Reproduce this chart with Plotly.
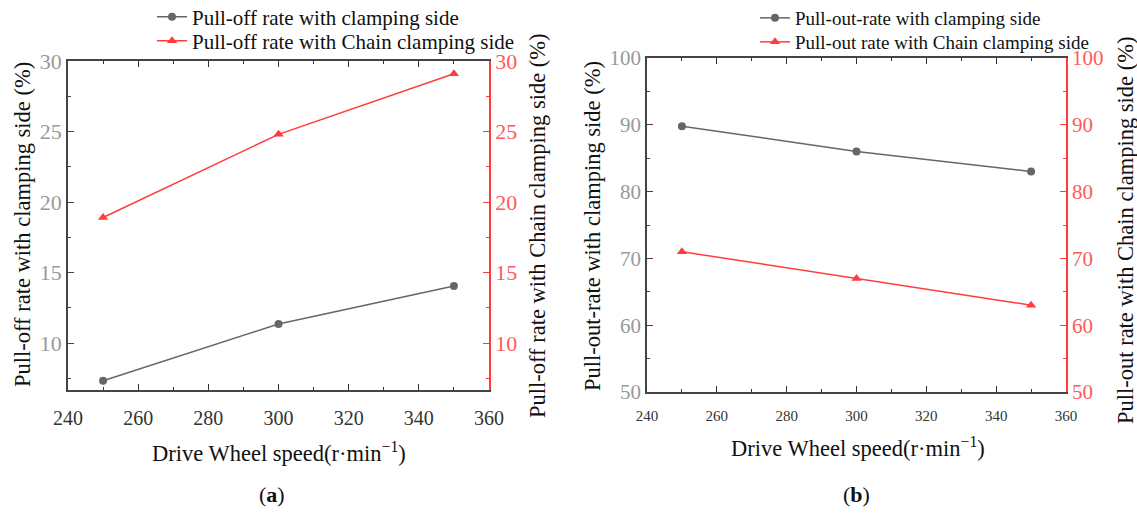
import plotly.graph_objects as go

speed = [250, 300, 350]
a_clamp = [7.33, 11.35, 14.04]
a_chain = [18.9, 24.8, 29.1]
b_clamp = [89.8, 86.0, 83.0]
b_chain = [71.0, 67.0, 63.0]

GRAY = "#666666"
RED = "#ff3b3b"
FONT = "Liberation Serif"

fig = go.Figure()

fig.add_trace(go.Scatter(x=speed, y=a_clamp, mode="lines+markers", name="Pull-off rate with clamping side",
                         line=dict(color=GRAY, width=1.5), marker=dict(symbol="circle", size=8, color=GRAY),
                         xaxis="x", yaxis="y", legend="legend", showlegend=True))
fig.add_trace(go.Scatter(x=speed, y=a_chain, mode="lines+markers", name="Pull-off rate with Chain clamping side",
                         line=dict(color=RED, width=1.5), marker=dict(symbol="triangle-up", size=9, color=RED),
                         xaxis="x", yaxis="y2", legend="legend2", showlegend=True))
fig.add_trace(go.Scatter(x=speed, y=b_clamp, mode="lines+markers", name="Pull-out-rate with clamping side",
                         line=dict(color=GRAY, width=1.5), marker=dict(symbol="circle", size=8, color=GRAY),
                         xaxis="x3", yaxis="y3", legend="legend3", showlegend=True))
fig.add_trace(go.Scatter(x=speed, y=b_chain, mode="lines+markers", name="Pull-out rate with Chain clamping side",
                         line=dict(color=RED, width=1.5), marker=dict(symbol="triangle-up", size=9, color=RED),
                         xaxis="x3", yaxis="y4", legend="legend4", showlegend=True))

W, H = 1137, 513

def px(x):
    return x / W

def py(y):
    return 1 - y / H

ax_dom = [px(68), px(489)]
ay_dom = [py(390), py(61)]
bx_dom = [px(647), px(1066)]
by_dom = [py(392), py(58)]

def xaxis(dom, anchor, fsize):
    return dict(domain=dom, anchor=anchor, range=[240, 360], tick0=240, dtick=20, automargin=False,
                ticks="inside", ticklen=6, tickwidth=1.2, tickcolor="#333", showline=True, linecolor="#444", linewidth=1.5,
                mirror="ticks", showgrid=False, zeroline=False, ticklabelstandoff=9,
                minor=dict(dtick=10, ticks="inside", ticklen=3, tickwidth=1.2, tickcolor="#333", showgrid=False),
                tickfont=dict(size=fsize, color="#333"))

def yleft(dom, anchor, rng, dt, mdt, fsize):
    return dict(domain=dom, anchor=anchor, range=rng, tick0=0, dtick=dt, automargin=False,
                ticks="inside", ticklen=6, tickwidth=1.2, tickcolor="#444", showline=True, linecolor="#444", linewidth=1.5,
                showgrid=False, zeroline=False,
                minor=dict(dtick=mdt, ticks="inside", ticklen=3, tickwidth=1.2, tickcolor="#444", showgrid=False),
                tickfont=dict(size=fsize, color="#999999"))

def yright(overlay, anchor, rng, dt, mdt, fsize):
    return dict(overlaying=overlay, anchor=anchor, side="right", range=rng, tick0=0, dtick=dt, automargin=False,
                ticks="inside", ticklen=6, tickwidth=1.2, tickcolor=RED, showline=True, linecolor=RED, linewidth=1.5,
                showgrid=False, zeroline=False,
                minor=dict(dtick=mdt, ticks="inside", ticklen=3, tickwidth=1.2, tickcolor=RED, showgrid=False),
                tickfont=dict(size=fsize, color="#ff5a5a"))

TFS = 22.5
XT = "Drive Wheel speed(r·min<sup>−1</sup>)"

def label(text, x, y, angle=0, size=TFS):
    return dict(text=text, x=px(x), y=py(y), xref="paper", yref="paper", showarrow=False,
                xanchor="center", yanchor="middle", textangle=angle,
                font=dict(size=size, color="#111"))

def leg(x, y, size):
    return dict(x=px(x), y=py(y), xanchor="left", yanchor="middle", bgcolor="rgba(0,0,0,0)",
                font=dict(size=size, color="#111"), tracegroupgap=0, visible=True)

fig.update_layout(
    template="none",
    showlegend=True,
    width=W, height=H, margin=dict(l=0, r=0, t=0, b=0, autoexpand=False),
    font=dict(family=FONT, color="#111"),
    plot_bgcolor="white", paper_bgcolor="white",
    xaxis=xaxis(ax_dom, "y", 20),
    yaxis=yleft(ay_dom, "x", [6.67, 30], 5, 2.5, 22),
    yaxis2=yright("y", "x", [6.67, 30], 5, 2.5, 22),
    xaxis3=xaxis(bx_dom, "y3", 15),
    yaxis3=yleft(by_dom, "x3", [50, 100], 10, 5, 21),
    yaxis4=yright("y3", "x3", [50, 100], 10, 5, 21),
    legend=leg(152, 17, 21),
    legend2=leg(152, 41, 21),
    legend3=leg(755, 18, 19),
    legend4=leg(755, 42, 19),
    annotations=[
        label("Pull-off rate with clamping side (%)", 22, 225, -90),
        label("Pull-off rate with Chain clamping side (%)", 537, 226, -90),
        label("Pull-out-rate with clamping side (%)", 592, 226, -90),
        label("Pull-out rate with Chain clamping side (%)", 1126, 231, -90),
        label(XT, 279, 452),
        label(XT, 858, 447),
        label("(<b>a</b>)", 272, 494, size=22),
        label("(<b>b</b>)", 856, 494, size=22),
    ],
)

fig.write_html("out.html", config={"displayModeBar": False},
               post_script="document.body.style.margin='0px';document.body.style.overflow='hidden';")
